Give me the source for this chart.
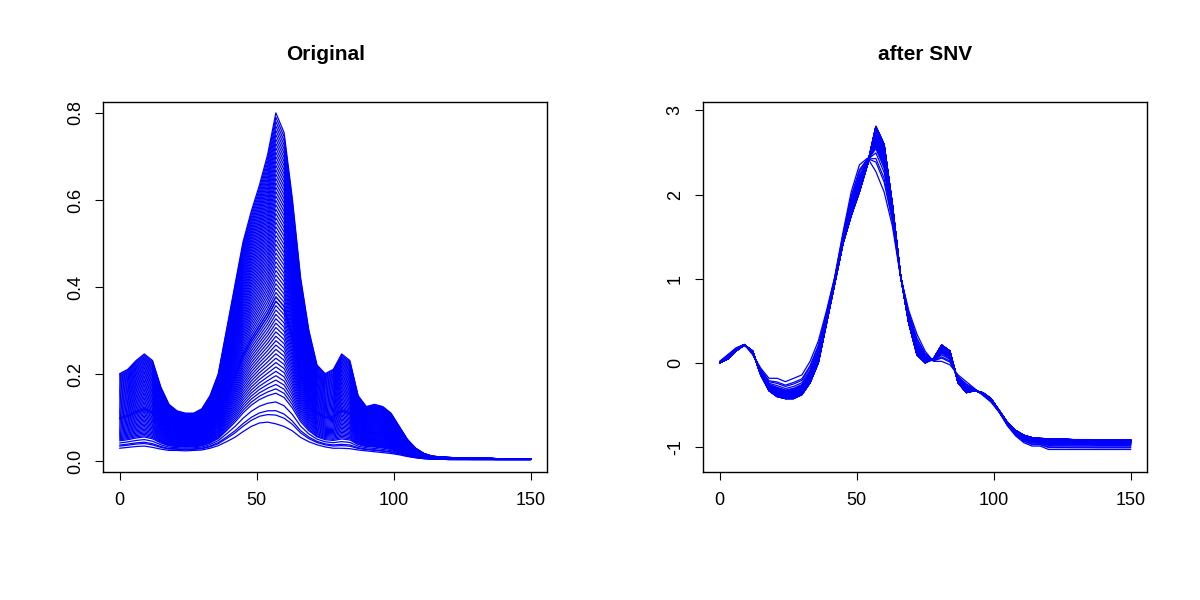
import numpy as np, pandas as pd, matplotlib
matplotlib.use("Agg")
import matplotlib.pyplot as plt, seaborn as sns

x_pos = list(range(0, 151, 3))
high_profile = [0.20,0.21,0.23,0.245,0.23,0.17,0.13,0.115,0.11,0.11,0.12,0.15,0.20,0.30,0.40,0.50,0.57,0.63,0.70,0.795,0.75,0.60,0.42,0.30,0.22,0.20,0.21,0.245,0.23,0.15,0.125,0.13,0.125,0.11,0.08,0.05,0.03,0.018,0.012,0.010,0.009,0.008,0.008,0.007,0.007,0.007,0.006,0.006,0.006,0.006,0.006]
low_profile = [0.030,0.032,0.034,0.035,0.032,0.028,0.025,0.025,0.024,0.025,0.026,0.030,0.036,0.045,0.055,0.068,0.080,0.088,0.090,0.086,0.080,0.070,0.055,0.045,0.038,0.033,0.030,0.030,0.029,0.026,0.024,0.022,0.020,0.018,0.015,0.011,0.008,0.006,0.005,0.005,0.004,0.004,0.004,0.004,0.004,0.004,0.004,0.004,0.004,0.004,0.004]
peak_heights = [0.09,0.11,0.12,0.14,0.16,0.17,0.18,0.19,0.20,0.21,0.22,0.23,0.24,0.25,0.26,0.27,0.28,0.29,0.30,0.31,0.32,0.33,0.34,0.35,0.36,0.37,0.37,0.38,0.38,0.39,0.40,0.41,0.42,0.43,0.44,0.45,0.46,0.47,0.48,0.49,0.50,0.51,0.52,0.53,0.54,0.55,0.56,0.57,0.58,0.59,0.60,0.61,0.62,0.63,0.64,0.65,0.66,0.67,0.68,0.69,0.70,0.71,0.72,0.73,0.74,0.75,0.76,0.77,0.78,0.79,0.80]

hp, lp = np.array(high_profile), np.array(low_profile)
rows = []
for i, h in enumerate(peak_heights):
    w = (h - 0.09) / (0.795 - 0.09)
    y = lp + w * (hp - lp)
    s = (y - y.mean()) / y.std(ddof=1)
    for xv, yv, sv in zip(x_pos, y, s):
        rows.append((i, xv, yv, sv))
df = pd.DataFrame(rows, columns=["id", "x", "orig", "snv"])

sns.set_style("white")
plt.rcParams['font.family'] = ['Liberation Sans', 'DejaVu Sans']
plt.rcParams['text.color'] = 'black'
plt.rcParams['xtick.color'] = 'black'
plt.rcParams['ytick.color'] = 'black'
plt.rcParams['axes.labelcolor'] = 'black'
fig = plt.figure(figsize=(12, 6), dpi=100)
ax1 = fig.add_axes([0.086, 0.213, 0.37, 0.617])
ax2 = fig.add_axes([0.586, 0.213, 0.37, 0.617])
for ax, col, title, yt, yl in [(ax1, "orig", "Original", [0, 0.2, 0.4, 0.6, 0.8], (-0.025, 0.825)),
                               (ax2, "snv", "after SNV", [-1, 0, 1, 2, 3], (-1.3, 3.1))]:
    sns.lineplot(data=df, x="x", y=col, units="id", estimator=None, color="blue", lw=0.9, ax=ax, legend=False)
    ax.set_xlim(-6, 156); ax.set_ylim(*yl)
    ax.set_xticks([0, 50, 100, 150]); ax.set_yticks(yt)
    ax.set_yticklabels([("%g" % v) if col == "snv" else ("%.1f" % v) for v in yt], rotation=90, va="center")
    ax.set_xlabel(""); ax.set_ylabel("")
    ax.set_title(title, fontweight="bold", fontsize=15, pad=30, color="black")
    ax.tick_params(direction="out", length=6, labelsize=13, left=True, bottom=True, pad=8, colors="black")
    for sp in ax.spines.values():
        sp.set_color("black"); sp.set_linewidth(1)
fig.savefig("out.png")
